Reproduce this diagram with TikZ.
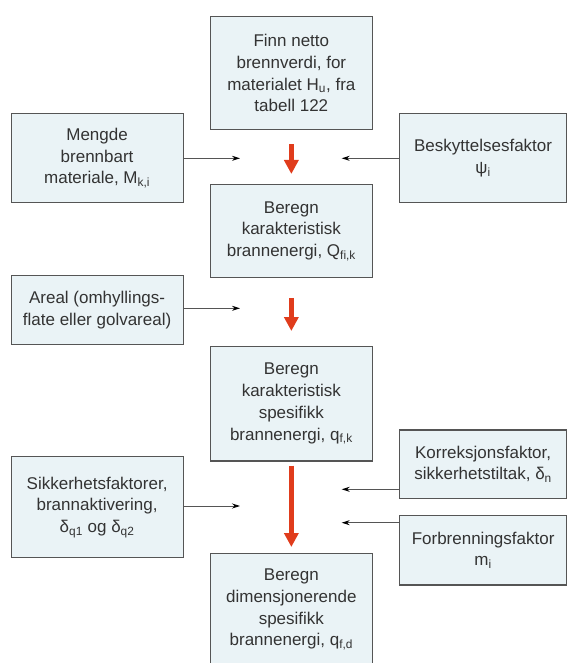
\documentclass[tikz,border=0pt]{standalone}
\usepackage{fontspec}
\setmainfont{Liberation Sans}
\usetikzlibrary{arrows.meta}
\definecolor{boksfyll}{HTML}{EAF3F6}
\definecolor{kant}{HTML}{555555}
\definecolor{tekst}{HTML}{333333}
\definecolor{rodpil}{HTML}{E03C1C}
\tikzstyle{boks} = [rectangle, draw=kant, line width=1.2pt, fill=boksfyll, text=tekst, align=center, anchor=north west, inner sep=2pt, font=\fontsize{17}{21.7}\selectfont]
\tikzstyle{midtboks} = [boks, minimum width=161.5pt]
\tikzstyle{venstreboks} = [boks, minimum width=172pt]
\tikzstyle{hoyreboks} = [boks, minimum width=167pt]
\tikzstyle{tilpil} = [draw=kant, line width=0.8pt, -{Stealth[length=8pt,width=5pt,color=black]}]
\tikzstyle{hovedpil} = [draw=rodpil, line width=4.5pt, -{Triangle[length=14pt,width=14pt]}]

\begin{document}
\begin{tikzpicture}[x=1pt, y=-1pt]

        \useasboundingbox (0,0) rectangle (568,663);

        % midtkolonnen
        \node (B1) [midtboks, minimum height=113.6pt] at (210,15.7) {Finn netto\\brennverdi, for\\materialet H\textsubscript{u}, fra\\tabell 122};
        \node (B2) [midtboks, minimum height=92.7pt] at (210,184) {Beregn\\karakteristisk\\brannenergi, Q\textsubscript{fi,k}};
        \node (B3) [midtboks, minimum height=114.3pt] at (210,346) {Beregn\\karakteristisk\\spesifikk\\brannenergi, q\textsubscript{f,k}};
        \node (B4) [midtboks, minimum height=112.3pt] at (210,552.7) {Beregn\\dimensjonerende\\spesifikk\\brannenergi, q\textsubscript{f,d}};

        % venstre side
        \node (M) [venstreboks, minimum height=88.4pt] at (10.5,113.3) {Mengde\\brennbart\\materiale, M\textsubscript{k,i}};
        \node (A) [venstreboks, minimum height=68.7pt] at (10.5,275) {Areal (omhyllings-\\flate eller golvareal)};
        \node (S) [venstreboks, minimum height=101pt] at (10.5,456) {Sikkerhetsfaktorer,\\brannaktivering,\\δ\textsubscript{q1} og δ\textsubscript{q2}};

        % hoyre side
        \node (P) [hoyreboks, minimum height=88.4pt] at (399,113.3) {Beskyttelsesfaktor\\ψ\textsubscript{i}};
        \node (K) [hoyreboks, minimum height=68.4pt] at (399,429.3) {Korreksjonsfaktor,\\sikkerhetstiltak, δ\textsubscript{n}};
        \node (F) [hoyreboks, minimum height=69.3pt] at (399,515) {Forbrenningsfaktor\\m\textsubscript{i}};

        \coordinate (tM) at (240,158.3);
        \coordinate (tP) at (341.7,158.3);
        \coordinate (tA) at (240,308.3);
        \coordinate (tS) at (240,506);
        \coordinate (tK) at (341.7,489.3);
        \coordinate (tF) at (341.7,522.7);

        \draw[tilpil] (M.east |- tM) -- (tM);
        \draw[tilpil] (P.west |- tP) -- (tP);
        \draw[tilpil] (A.east |- tA) -- (tA);
        \draw[tilpil] (S.east |- tS) -- (tS);
        \draw[tilpil] (K.west |- tK) -- (tK);
        \draw[tilpil] (F.west |- tF) -- (tF);

        \draw[hovedpil, shorten <=14pt, shorten >=10pt] (B1) -- (B2);
        \draw[hovedpil, shorten <=20pt, shorten >=15pt] (B2) -- (B3);
        \draw[hovedpil, shorten <=4pt, shorten >=5.7pt] (B3) -- (B4);

    \end{tikzpicture}
\end{document}
